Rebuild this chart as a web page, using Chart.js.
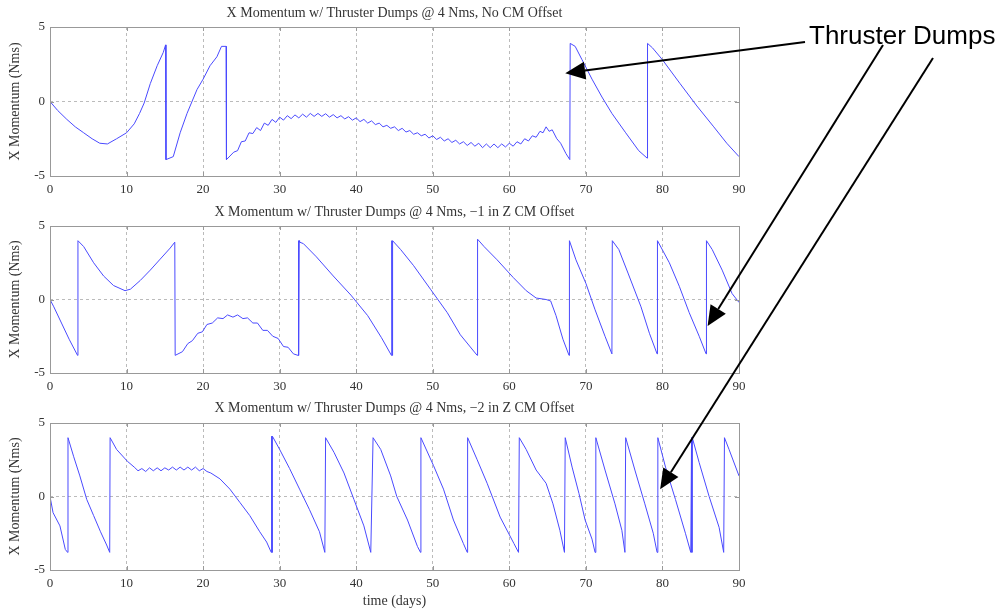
<!DOCTYPE html>
<html>
<head>
<meta charset="utf-8">
<script src="https://cdn.jsdelivr.net/npm/chart.js@4.4.1/dist/chart.umd.min.js"></script>
<style>
body { margin: 0; background: #fff; }
#wrap { position: relative; width: 1005px; height: 613px; overflow: hidden; }
canvas { position: absolute; left: 0; }
#overlay { pointer-events: none; }
</style>
</head>
<body>
<div id="wrap">
<canvas id="c1" width="760" height="200" style="top:0px"></canvas>
<canvas id="c2" width="760" height="200" style="top:200px"></canvas>
<canvas id="c3" width="760" height="213" style="top:400px"></canvas>
<canvas id="overlay" width="1005" height="613" style="top:0px"></canvas>
</div>
<script>
// Panel titles / axis text
const panelTitles = [
    'X Momentum w/ Thruster Dumps @ 4 Nms, No CM Offset',
    'X Momentum w/ Thruster Dumps @ 4 Nms, \u22121 in Z CM Offset',
    'X Momentum w/ Thruster Dumps @ 4 Nms, \u22122 in Z CM Offset'
];
const yLabel = 'X Momentum (Nms)';
const xLabel = 'time (days)';
const xTickStep = 10;
const yTickStep = 5;

// No CM offset
const days1 = [0, 1, 2.2, 3.3, 4.4, 5.5, 6.5, 7.5, 8.7, 10, 11, 11.7, 12.3, 13.1, 14, 14.8, 15.1, 15.15, 16.1, 17, 17.9, 19.2, 20, 20.9, 21.8, 22.4, 23, 23.05,
    24, 24.5, 25, 25.5, 26, 26.5, 27, 27.5, 28, 28.5, 29, 29.5, 30, 30.5, 31, 31.5, 32, 32.5, 33, 33.5, 34, 34.5, 35, 35.5,
    36, 36.5, 37, 37.5, 38, 38.5, 39, 39.5, 40, 40.5, 41, 41.5, 42, 42.5, 43, 43.5, 44, 44.5, 45, 45.5, 46, 46.5, 47, 47.5,
    48, 48.5, 49, 49.5, 50, 50.5, 51, 51.5, 52, 52.5, 53, 53.5, 54, 54.5, 55, 55.5, 56, 56.5, 57, 57.5, 58, 58.5, 59, 59.5,
    60, 60.5, 61, 61.5, 62, 62.5, 63, 63.5, 64, 64.4, 64.8, 65.2, 65.6, 66.2, 66.7, 67.4, 67.9, 67.95,
    68.6, 69.5, 70.8, 72.1, 73.4, 75.2, 76.9, 78, 78.05, 78.7, 80, 82.3, 84.5, 86.7, 88.4, 90];
const momentum1 = [0, -0.6, -1.2, -1.7, -2.1, -2.5, -2.8, -2.85, -2.5, -2.1, -1.5, -0.8, -0.1, 1.2, 2.4, 3.3, 3.8, -3.9, -3.7, -2.1, -0.8, 0.8, 1.5, 2.4, 3.0, 3.7, 3.7, -3.9,
    -3.4, -3.3, -2.7, -2.65, -2.1, -2.15, -1.75, -1.95, -1.45, -1.6, -1.2, -1.4, -1.05, -1.25, -0.95, -1.15, -0.9, -1.1, -0.85, -1.05, -0.8, -1.0, -0.8, -1.0,
    -0.82, -1.05, -0.88, -1.1, -0.95, -1.17, -1.02, -1.25, -1.1, -1.35, -1.2, -1.45, -1.3, -1.55, -1.45, -1.7, -1.6, -1.8, -1.7, -1.95, -1.8, -2.05, -1.95, -2.2,
    -2.1, -2.3, -2.2, -2.45, -2.3, -2.55, -2.4, -2.65, -2.5, -2.75, -2.6, -2.85, -2.7, -2.95, -2.75, -3.0, -2.8, -3.1, -2.85, -3.1, -2.85, -3.1, -2.85, -3.05,
    -2.8, -3.0, -2.7, -2.85, -2.5, -2.65, -2.3, -2.4, -2.0, -2.1, -1.7, -2.0, -1.9, -2.5, -2.8, -3.5, -3.9, 3.9,
    3.7, 2.8, 1.5, 0.3, -0.8, -2.1, -3.3, -3.8, 3.9, 3.6, 2.8, 1.2, -0.3, -1.7, -2.8, -3.7];

// -1 in Z CM offset
const days2 = [0, 0.5, 1.5, 2.5, 3.6, 3.65, 4.4, 5.7, 7, 8.3, 9.8, 10.5, 11.8, 13.1, 14.4, 15.7, 16.3, 16.35,
    17.3, 18, 18.6, 19.3, 19.9, 20.5, 21.2, 21.9, 22.6, 23.2, 23.9, 24.5, 25.2, 25.8, 26.5, 27.1, 27.8, 28.4, 29.1, 29.8, 30.5, 31.1, 31.8, 32.4,
    32.45, 32.5, 32.55, 32.6, 33.1, 34.8, 37, 39.3, 41.5, 43.3, 44.6, 44.65, 44.7, 44.75, 45.8, 47.5, 49.7, 51.9, 53.6, 55.8, 55.85,
    56.7, 58.4, 60.5, 62.2, 63.5, 64.8, 65.4, 66.1, 67, 67.8, 67.85, 68.7, 70, 71.2, 72.5, 73.4, 73.45, 74.3, 75.5, 77.2, 78.3, 79.3, 79.35,
    80.9, 82.2, 83.5, 84.8, 85.7, 85.75, 86.5, 87.8, 89.1, 90];
const momentum2 = [0, -0.5, -1.6, -2.7, -3.8, 4.0, 3.6, 2.5, 1.6, 0.95, 0.6, 0.7, 1.3, 2.0, 2.75, 3.5, 3.9, -3.8,
    -3.55, -3.0, -2.8, -2.3, -2.2, -1.7, -1.6, -1.25, -1.3, -1.05, -1.2, -1.05, -1.3, -1.25, -1.6, -1.6, -2.1, -2.1, -2.5, -2.65, -3.2, -3.25, -3.7, -3.8,
    4.0, -3.8, 4.0, 3.9, 3.8, 2.9, 1.6, 0.3, -1.1, -2.6, -3.8, 4.0, -3.8, 4.0, 3.4, 2.3, 0.7, -0.9, -2.4, -3.8, 4.1,
    3.6, 2.7, 1.5, 0.6, 0.1, 0, -0.1, -1.1, -2.7, -3.8, 4.0, 2.7, 1.1, -0.7, -2.5, -3.7, 4.0, 3.4, 1.8, -0.5, -2.3, -3.7, 4.0,
    2.5, 0.9, -0.9, -2.5, -3.7, 4.0, 3.4, 2.0, 0.4, -0.2];

// -2 in Z CM offset
const days3 = [0, 0.4, 1.3, 2, 2.3, 2.35, 3.1, 3.9, 4.8, 5.7, 6.6, 7.4, 7.8, 7.85, 8.7, 10.1,
    11, 11.5, 12, 12.5, 13, 13.5, 14, 14.5, 15, 15.5, 16, 16.5, 17, 17.5, 18, 18.5, 19, 19.5, 20, 20.5, 21,
    22.2, 23.5, 24.8, 26.1, 27.4, 28.3, 28.9, 28.95, 29, 29.05, 30, 31.3, 32.6, 33.9, 35.2, 35.9, 36, 37.1, 38.4, 39.7, 41, 41.9, 42.2,
    43.2, 44.5, 45.3, 46.7, 48, 48.4, 48.45, 50.1, 51.4, 52.7, 54, 54.5, 54.55, 55.8, 57.1, 58.8, 60.6, 61.2, 61.3,
    62.2, 63.5, 64.8, 65.7, 66.6, 67.2, 67.3, 68.2, 69.1, 69.9, 70.8, 71.2, 71.3, 72.5, 73.8, 74.7, 75.1, 75.2,
    76.4, 77.7, 78.8, 79.3, 79.4, 80.4, 81.7, 83, 83.7, 83.8, 83.85, 83.9, 84.8, 86.1, 87.4, 88, 88.1, 88.7, 90];
const momentum3 = [0, -1.1, -2.0, -3.6, -3.8, 4.0, 2.7, 1.4, -0.2, -1.3, -2.4, -3.3, -3.8, 4.0, 3.2, 2.4,
    2.0, 1.75, 1.9, 1.7, 1.95, 1.75, 1.95, 1.75, 1.95, 1.8, 2.0, 1.8, 2.0, 1.8, 2.0, 1.8, 2.0, 1.75, 1.9, 1.7, 1.6,
    1.2, 0.5, -0.4, -1.3, -2.4, -3.1, -3.8, 4.1, -3.8, 4.1, 3.2, 1.9, 0.5, -0.9, -2.4, -3.8, 4.0, 3.0, 1.6, -0.2, -2.0, -3.8, 4.0,
    3.2, 1.4, 0, -1.6, -3.4, -3.8, 4.0, 2.1, 0.5, -1.6, -3.2, -3.8, 4.0, 2.5, 0.9, -1.4, -3.2, -3.8, 4.0,
    3.2, 1.8, 0.9, -0.5, -2.3, -3.8, 4.0, 2.0, 0.2, -1.6, -2.9, -3.8, 4.0, 1.8, -0.5, -2.3, -3.8, 4.0,
    1.8, -0.5, -2.5, -3.8, 4.0, 2.0, -0.2, -2.5, -3.8, 4.0, -3.8, 4.0, 2.3, 0, -2.1, -3.8, 4.0, 3.2, 1.4];

// Annotation: label and arrow targets (panel index, day, momentum)
const noteText = 'Thruster Dumps';
const noteTargets = [[0, 67.3, 1.9], [1, 85.9, -1.8], [2, 79.7, 0.5]];

const serif = "'Liberation Serif', 'DejaVu Serif', serif";
const textColor = '#333';

// MATLAB-style box with inward ticks
const boxPlugin = {
    id: 'box',
    afterDraw(chart) {
        const a = chart.chartArea;
        const ctx = chart.ctx;
        const xs = chart.scales.x, ys = chart.scales.y;
        ctx.save();
        ctx.strokeStyle = '#999';
        ctx.lineWidth = 1;
        ctx.strokeRect(Math.round(a.left) + 0.5, Math.round(a.top) + 0.5, Math.round(a.right - a.left), Math.round(a.bottom - a.top));
        ctx.beginPath();
        xs.ticks.forEach(t => {
            const px = Math.round(xs.getPixelForValue(t.value)) + 0.5;
            ctx.moveTo(px, a.bottom); ctx.lineTo(px, a.bottom - 4);
            ctx.moveTo(px, a.top); ctx.lineTo(px, a.top + 4);
        });
        ys.ticks.forEach(t => {
            const py = Math.round(ys.getPixelForValue(t.value)) + 0.5;
            ctx.moveTo(a.left, py); ctx.lineTo(a.left + 4, py);
            ctx.moveTo(a.right, py); ctx.lineTo(a.right - 4, py);
        });
        ctx.stroke();
        ctx.restore();
    }
};

function makePanel(id, title, days, momentum, titlePad, axisHeight, showXLabel) {
    const points = days.map((d, i) => ({ x: d, y: momentum[i] }));
    return new Chart(document.getElementById(id), {
        type: 'line',
        data: {
            datasets: [{
                data: points,
                borderColor: '#4a4aff',
                borderWidth: 1,
                pointRadius: 0,
                tension: 0,
                fill: false
            }]
        },
        options: {
            responsive: false,
            animation: false,
            layout: { padding: { top: 0, right: 21, left: 0, bottom: 0 } },
            plugins: {
                legend: { display: false },
                tooltip: { enabled: false },
                title: {
                    display: true,
                    text: title,
                    fullSize: false,
                    color: textColor,
                    font: { family: serif, size: 14, weight: 'normal' },
                    padding: titlePad
                }
            },
            scales: {
                x: {
                    type: 'linear',
                    min: 0,
                    max: 90,
                    afterFit: s => { s.height = axisHeight; },
                    ticks: { stepSize: xTickStep, padding: 6, color: textColor, font: { family: serif, size: 13 } },
                    grid: { color: '#bbb', drawTicks: false },
                    border: { display: false, dash: [3, 3] },
                    title: {
                        display: showXLabel,
                        text: xLabel,
                        color: textColor,
                        font: { family: serif, size: 14 },
                        padding: { top: 0, bottom: 3 }
                    }
                },
                y: {
                    min: -5,
                    max: 5,
                    afterFit: s => { s.width = 50; },
                    ticks: { stepSize: yTickStep, padding: 5, color: textColor, font: { family: serif, size: 13 } },
                    grid: {
                        color: c => (c.tick && c.tick.value === 0) ? '#bbb' : 'rgba(0,0,0,0)',
                        drawTicks: false
                    },
                    border: { display: false, dash: [3, 3] },
                    title: {
                        display: true,
                        text: yLabel,
                        color: textColor,
                        font: { family: serif, size: 14 },
                        padding: { top: 7, bottom: 0 }
                    }
                }
            }
        },
        plugins: [boxPlugin]
    });
}

const charts = [
    makePanel('c1', panelTitles[0], days1, momentum1, { top: 4.6, bottom: 5.6 }, 24, false),
    makePanel('c2', panelTitles[1], days2, momentum2, { top: 3.6, bottom: 5.6 }, 27, false),
    makePanel('c3', panelTitles[2], days3, momentum3, { top: 0, bottom: 6.2 }, 43, true)
];
const canvasTops = [0, 200, 400];

// annotation overlay
const ov = document.getElementById('overlay').getContext('2d');
ov.fillStyle = '#000';
ov.font = "26px 'Liberation Sans', Arial, sans-serif";
ov.textBaseline = 'middle';
ov.fillText(noteText, 809, 37);

const tails = [[805, 42], [883, 45], [933, 58]];
noteTargets.forEach((t, i) => {
    const ch = charts[t[0]];
    const tipX = ch.scales.x.getPixelForValue(t[1]);
    const tipY = ch.scales.y.getPixelForValue(t[2]) + canvasTops[t[0]];
    const [sx, sy] = tails[i];
    const ang = Math.atan2(tipY - sy, tipX - sx);
    const len = 20, half = 9;
    const bx = tipX - len * Math.cos(ang), by = tipY - len * Math.sin(ang);
    ov.strokeStyle = '#000';
    ov.lineWidth = 2;
    ov.beginPath();
    ov.moveTo(sx, sy);
    ov.lineTo(bx, by);
    ov.stroke();
    ov.beginPath();
    ov.moveTo(tipX, tipY);
    ov.lineTo(bx + half * Math.sin(ang), by - half * Math.cos(ang));
    ov.lineTo(bx - half * Math.sin(ang), by + half * Math.cos(ang));
    ov.closePath();
    ov.fill();
});
</script>
</body>
</html>
